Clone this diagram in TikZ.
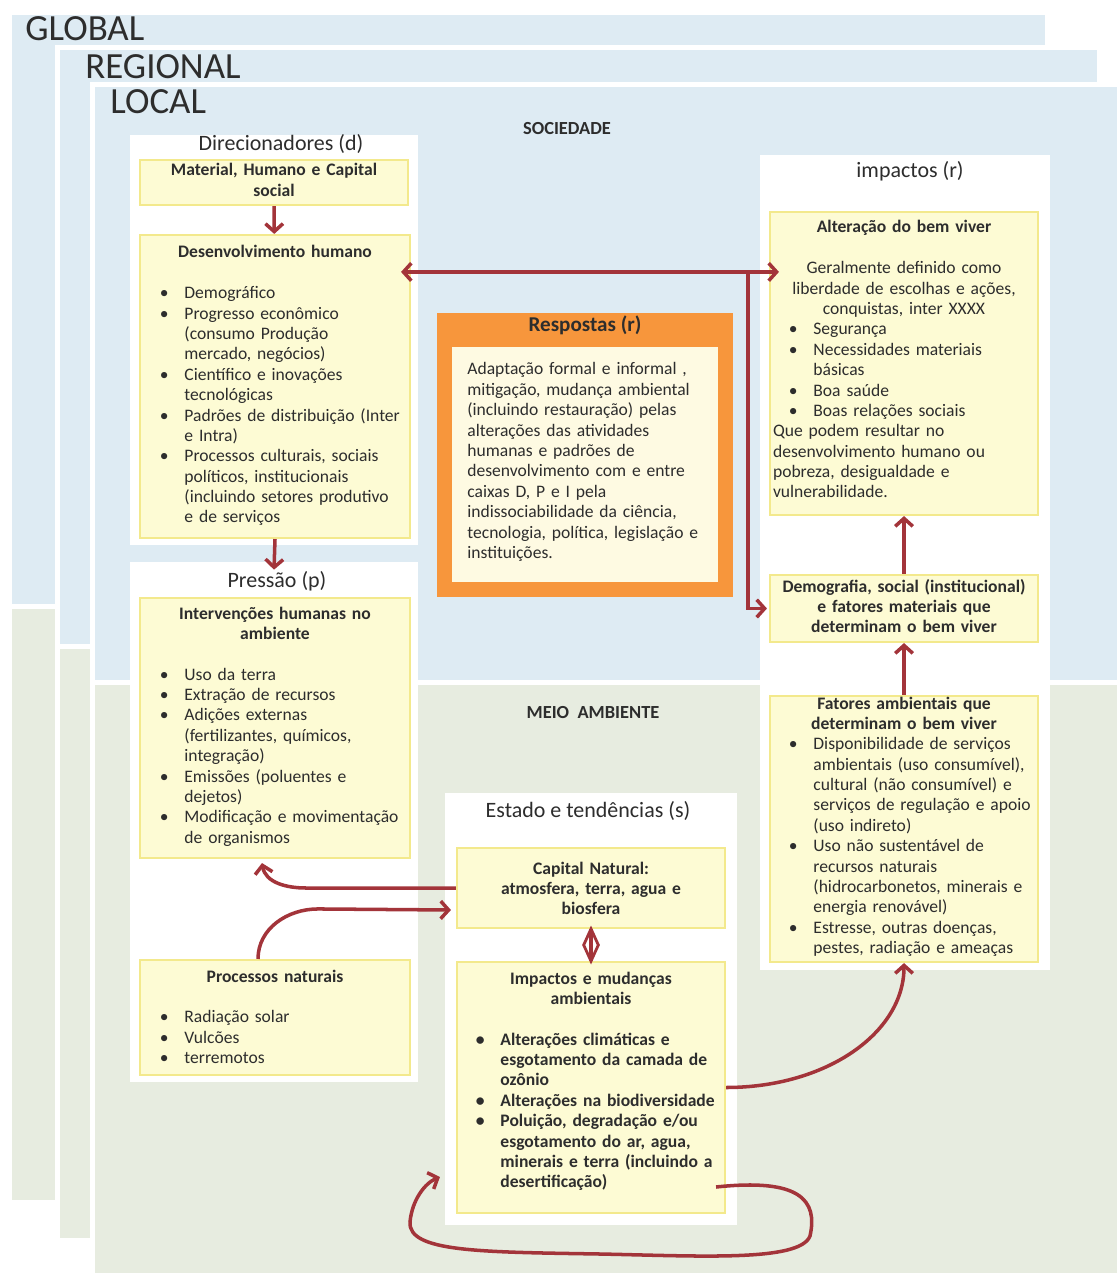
\documentclass[tikz,border=0pt]{standalone}
\usepackage{fontspec}
\setmainfont{Carlito}
\usepackage{tikz}
\usetikzlibrary{arrows.meta,fit,positioning,shapes.geometric}

\definecolor{lblue}{RGB}{222,235,243}
\definecolor{lgreen}{RGB}{231,236,224}
\definecolor{yfill}{RGB}{253,251,212}
\definecolor{yline}{RGB}{243,233,140}
\definecolor{ofill}{RGB}{247,150,60}
\definecolor{cream}{RGB}{254,250,226}
\definecolor{ared}{RGB}{163,52,58}
\definecolor{ink}{RGB}{45,45,45}

\newcommand{\itm}{\par\noindent\hangindent=23pt\hangafter=1\makebox[23pt][l]{\hspace{9pt}\textbullet}\ignorespaces}
\newcommand{\nl}{\unskip\hfil\break}

\begin{document}
\begin{tikzpicture}[x=0.02cm, y=-0.02cm, >={Straight Barb[length=4.5pt,width=10pt]}]
        \tikzset{panel/.style = {fill=white, inner sep=0pt},
                 ybox/.style = {fill=yfill, draw=yline, line width=1.2pt, inner sep=0pt},
                 txt/.style = {font=\fontsize{10}{11.6}\selectfont, text=ink, inner sep=0pt, text width=5.24cm, align=left, anchor=base},
                 ctxt/.style = {txt, align=center, font=\fontsize{10}{11.6}\selectfont\bfseries},
                 ttl/.style = {font=\fontsize{12.5}{15}\selectfont, text=ink, anchor=base, inner sep=0pt},
                 scl/.style = {font=\fontsize{21}{25}\selectfont, text=ink, anchor=base west, inner sep=0pt},
                 zone/.style = {font=\fontsize{10.5}{12}\selectfont\bfseries, text=ink, anchor=base, inner sep=0pt},
                 arr/.style = {draw=ared, line width=2pt},
                 dia/.style = {diamond, draw=ared, line width=1.6pt, inner sep=0pt, minimum width=9pt, minimum height=19pt}}
        \useasboundingbox (0,0) rectangle (1117,1273);
        % scales
        \fill[lblue] (12,15) rectangle (1045,604);
        \fill[lgreen] (12,609) rectangle (1045,1200);
        \fill[white] (55,45) rectangle (1117,1273);
        \fill[lblue] (60,50) rectangle (1097,644);
        \fill[lgreen] (60,649) rectangle (1097,1238);
        \fill[white] (90,82) rectangle (1117,1273);
        \fill[lblue] (95,87) rectangle (1117,680);
        \fill[lgreen] (95,685) rectangle (1117,1273);
        \node[scl] (glob) at (25,41) {GLOBAL};
        \node[scl] (reg) at (85,79) {REGIONAL};
        \node[scl] (loc) at (110,114) {LOCAL};
        \node[zone] (soc) at (567,135) {SOCIEDADE};
        \node[zone] (mei) at (593,718) {MEIO\ \ AMBIENTE};
        % panels
        \node[panel, fit={(130,135) (418,545)}] (dir) {};
        \node[panel, fit={(130,562) (418,1082)}] (pre) {};
        \node[panel, fit={(760,155) (1050,970)}] (imp) {};
        \node[panel, fit={(445,793) (737,1225)}] (est) {};
        \node[fill=ofill, inner sep=0pt, fit={(437,313) (733,597)}] (resp) {};
        \node[fill=cream, inner sep=0pt, fit={(452,347) (718,582)}] (resin) {};
        % boxes
        \node[ybox, fit={(140,160) (408,205)}] (mat) {};
        \node[ybox, fit={(140,235) (410,538)}] (des) {};
        \node[ybox, fit={(140,598) (410,858)}] (int) {};
        \node[ybox, fit={(140,960) (410,1075)}] (proc) {};
        \node[ybox, fit={(770,212) (1038,515)}] (alt) {};
        \node[ybox, fit={(770,575) (1038,642)}] (dem) {};
        \node[ybox, fit={(770,696) (1038,962)}] (fat) {};
        \node[ybox, fit={(457,848) (725,928)}] (cap) {};
        \node[ybox, fit={(457,962) (725,1213)}] (imc) {};
        % texts
        \node[ttl] (tdir) at (281,151) {Direcionadores (d)};
        \node[ctxt] (tmat) at (274,176) {Material, Humano e Capital\\social};
        \node[txt] (tdes) at (275,258) {{\centering\bfseries Desenvolvimento humano\par}\vspace{11.6pt}
                \itm Demográfico
                \itm Progresso econômico\nl(consumo Produção\nl mercado, negócios)
                \itm Científico e inovações\nl tecnológicas
                \itm Padrões de distribuição (Inter\nl e Intra)
                \itm Processos culturais, sociais\nl políticos, institucionais\nl(incluindo setores produtivo\nl e de serviços\par};
        \node[ttl] (tpre) at (277,587) {Pressão (p)};
        \node[txt] (tint) at (275,619) {{\centering\bfseries Intervenções humanas no\\ambiente\par}\vspace{11.6pt}
                \itm Uso da terra
                \itm Extração de recursos
                \itm Adições externas\nl(fertilizantes, químicos,\nl integração)
                \itm Emissões (poluentes e\nl dejetos)
                \itm Modificação e movimentação\nl de organismos\par};
        \node[txt] (tproc) at (275,982) {{\centering\bfseries Processos naturais\par}\vspace{11.6pt}
                \itm Radiação solar
                \itm Vulcões
                \itm terremotos\par};
        \node[ttl, font=\fontsize{12}{14}\selectfont\bfseries] (tresp) at (585,332) {Respostas (r)};
        \node[txt, anchor=base west, text width=5cm] (trin) at (467,375) {Adaptação formal e informal ,\\mitigação, mudança ambiental\\(incluindo restauração) pelas\\alterações das atividades\\humanas e padrões de\\desenvolvimento com e entre\\caixas D, P e I pela\\indissociabilidade da ciência,\\tecnologia, política, legislação e\\instituições.};
        \node[ttl] (timp) at (910,178) {impactos (r)};
        \node[txt] (talt) at (904,233) {{\centering\bfseries Alteração do bem viver\par}\vspace{11.6pt}
                {\centering Geralmente definido como\\liberdade de escolhas e ações,\\conquistas, inter XXXX\par}
                \itm Segurança
                \itm Necessidades materiais\nl básicas
                \itm Boa saúde
                \itm Boas relações sociais
                \par\noindent Que podem resultar no\\desenvolvimento humano ou\\pobreza, desigualdade e\\vulnerabilidade.};
        \node[ctxt] (tdem) at (904,592) {Demografia, social (institucional)\\e fatores materiais que\\determinam o bem viver};
        \node[txt] (tfat) at (904,709) {{\centering\bfseries Fatores ambientais que\\determinam o bem viver\par}
                \itm Disponibilidade de serviços\nl ambientais (uso consumível),\nl cultural (não consumível) e\nl serviços de regulação e apoio\nl(uso indireto)
                \itm Uso não sustentável de\nl recursos naturais\nl(hidrocarbonetos, minerais e\nl energia renovável)
                \itm Estresse, outras doenças,\nl pestes, radiação e ameaças\par};
        \node[ttl] (test) at (588,817) {Estado e tendências (s)};
        \node[ctxt] (tcap) at (591,874) {Capital Natural:\\atmosfera, terra, agua e\\biosfera};
        \node[txt] (timc) at (591,984) {{\centering\bfseries Impactos e mudanças\\ambientais\par}\vspace{11.6pt}
                \bfseries
                \itm Alterações climáticas e\nl esgotamento da camada de\nl ozônio
                \itm Alterações na biodiversidade
                \itm Poluição, degradação e/ou\nl esgotamento do ar, agua,\nl minerais e terra (incluindo a\nl desertificação)\par};
        % connectors
        \coordinate (jn) at (748,273);
        \draw[arr,->] (mat) -- (des);
        \draw[arr,->] (des.south) -- ([shift={(0,8)}]pre.north);
        \draw[arr,<->] ([shift={(-10,38)}]des.north east) -- ([shift={(10,61)}]alt.north west);
        \draw[arr,->] (jn) |- ([shift={(-2,0)}]dem.west);
        \draw[arr,->] (dem) -- (alt);
        \draw[arr,->] (fat) -- (dem);
        \draw[arr,->] (cap.west) -- ++(-150,0) to[out=180,in=-80] ([shift={(-13,4)}]int.south);
        \draw[arr,->] ([shift={(-17,0)}]proc.north) to[out=90,in=180] ++(60,-50) -- ([shift={(-5,22)}]cap.west);
        \draw[arr] (cap) -- node[dia] (dmd) {} (imc);
        \draw[arr,->] (imc.east) .. controls +(100,0) and +(0,70) .. (fat.south);
        \draw[arr,->] ([shift={(-10,99.5)}]imc.east) .. controls (800,1178) and (818,1200) .. (810,1236)
                .. controls (800,1262) and (700,1256) .. (600,1254)
                .. controls (480,1252) and (408,1252) .. (410,1222)
                .. controls (412,1200) and (425,1183) .. ([shift={(-16,89.5)}]imc.west);
\end{tikzpicture}
\end{document}
